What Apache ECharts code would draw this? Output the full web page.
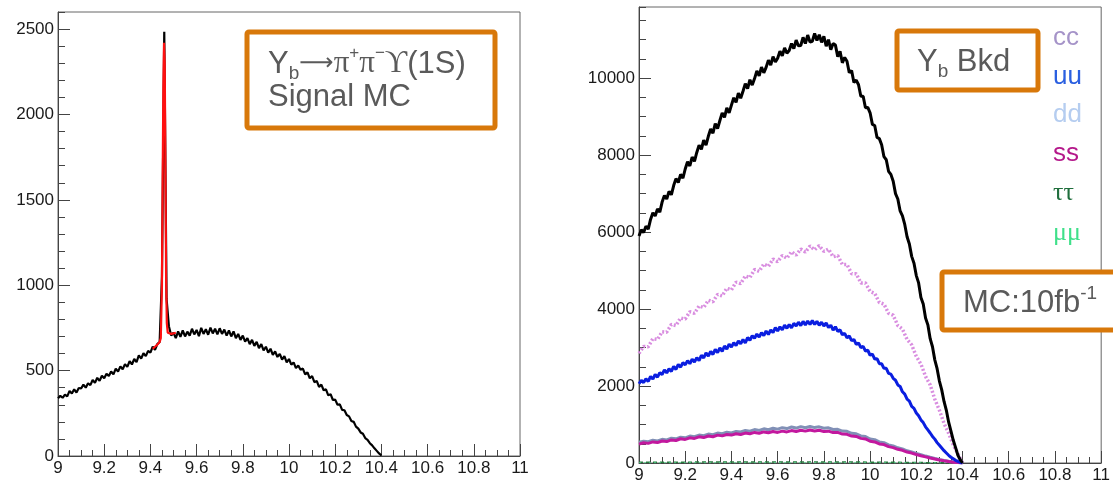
<!DOCTYPE html>
<html>
<head>
<meta charset="utf-8">
<script src="https://cdn.jsdelivr.net/npm/echarts@6/dist/echarts.min.js"></script>
<style>
html,body{margin:0;padding:0;background:#fff;}
#c{width:1113px;height:485px;}
</style>
</head>
<body>
<div id="c"></div>
<script>
// ---- binning (histogram bin centres) ----
const BIN_START = 9.0;
const FINE_BIN = 0.01;   // 141 bins 9.00 .. 10.40
const COARSE_BIN = 0.02; // 71 bins 9.00 .. 10.40

// ---- Left panel: signal MC (counts per bin) ----
const signalCounts = [
  338,352,341,360,349, 381,366,390,372,398, 395,418,400,426,415, 445,428,458,440,470,
  455,482,468,495,478, 512,494,525,508,538, 522,555,536,568,550, 590,570,602,585,615,
  605,640,622,655,668, 1050,2485,920,760,705, 722,690,730,698,735, 700,728,705,745,712,
  738,702,750,715,742, 710,752,718,745,712, 748,715,740,705,735, 700,730,690,715,680,
  705,670,690,655,680, 645,668,632,655,618, 640,605,628,592,612, 580,598,565,585,548,
  568,535,548,515,530, 505,512,478,490,455, 468,432,440,405,418, 385,390,355,362,328,
  330,300,302,270,268, 240,232,205,200,172, 160,138,130,105,95, 75,62,45,30,15, 3
];
// fit curve (x, y)
const fitX = [9.41,9.42,9.43,9.44,9.445,9.45,9.453,9.456,9.459,9.462,9.465,9.468,9.471,9.475,9.48,9.49,9.50,9.51];
const fitY = [628,640,652,668,690,1000,1600,2150,2420,2300,1700,1050,780,722,712,715,718,722];

// ---- Right panel: background MC ----
const bkdTotal = [
  5900,6060,5990,6150,6080, 6330,6500,6420,6600,6520, 6780,6950,6860,7060,6970, 7210,7390,7290,7500,7400,
  7640,7830,7720,7950,7840, 8070,8260,8150,8390,8260, 8490,8680,8570,8820,8690, 8900,9100,8980,9230,9100,
  9300,9490,9370,9610,9480, 9660,9860,9730,9960,9820, 9990,10190,10060,10290,10140, 10280,10470,10340,10560,10420,
  10520,10700,10580,10790,10650, 10720,10900,10770,10990,10840, 10850,11060,10900,11120,10940, 10960,11160,10980,11130,10930,
  11090,10830,11000,10740,10900, 10860,10560,10700,10400,10540, 10440,10140,10200,9890,9950, 9830,9530,9530,9230,9240,
  9100,8800,8770,8460,8430, 8270,7960,7880,7580,7500, 7320,7000,6860,6550,6420, 6200,5880,5690,5370,5190,
  4870,4680,4300,4130,3770, 3590,3230,3020,2680,2450, 2130,1900,1600,1370,1060, 830,590,400,200,85, 0
];
const bkdUU = [
  2060,2150,2090,2190,2120, 2250,2180,2300,2230,2350, 2300,2420,2340,2450,2380, 2510,2430,2560,2490,2610,
  2550,2660,2580,2700,2620, 2740,2660,2800,2730,2860, 2780,2900,2820,2950,2870, 2990,2900,3040,2960,3090,
  3010,3130,3050,3170,3100, 3210,3120,3260,3190,3310, 3240,3350,3270,3390,3310, 3430,3340,3460,3390,3520,
  3430,3540,3460,3580,3500, 3600,3510,3630,3560,3660, 3570,3680,3590,3690,3600, 3700,3600,3680,3580,3660,
  3560,3640,3520,3580,3450, 3540,3420,3460,3330,3370, 3250,3300,3180,3210,3080, 3120,3000,3030,2910,2930,
  2800,2830,2700,2710,2580, 2580,2460,2460,2330,2310, 2200,2150,2030,1990,1850, 1790,1660,1610,1470,1420,
  1300,1230,1120,1050,940, 860,780,690,620,530, 460,390,320,260,200, 150,110,70,40,15, 0
];
const bkdPink = [
  2850,3030,3020,3230,3210,3410,3400,3600,3570,3770,
  3740,3930,3890,4080,4040,4230,4190,4380,4340,4540,
  4500,4700,4660,4860,4820,5030,4980,5170,5110,5300,
  5230,5390,5320,5490,5400,5560,5480,5640,5540,5650,
  5500,5560,5360,5390,5160,5160,4920,4920,4680,4680,
  4460,4410,4170,4130,3890,3840,3570,3480,3210,3070,
  2770,2570,2250,2030,1660,1370,1030,770,470,240,0
];
const bkdGray = [
  540,565,552,590,575,615,600,645,628,672,
  655,700,682,725,708,752,735,778,760,800,
  782,822,805,845,828,868,848,888,865,905,
  880,918,895,935,908,945,915,950,920,940,
  905,915,870,875,830,822,772,760,705,690,
  625,605,548,528,470,445,395,368,318,290,
  248,215,180,148,118,90,66,44,26,12,0
];
const bkdSS = [
  490,525,510,548,530,572,556,600,585,630,
  612,655,638,680,660,702,682,724,705,742,
  725,760,740,778,760,795,772,808,785,820,
  795,828,808,842,820,850,828,858,832,850,
  818,828,790,795,752,745,700,690,640,625,
  565,548,495,478,425,400,355,330,285,258,
  222,190,160,130,105,80,58,38,22,10,0
];
const tauX = [9.0,9.1,9.2,9.3,9.4,9.5,9.6,9.7,9.8,9.9,10.0,10.1,10.2,10.3,10.4];
const tauY = [18,20,22,24,25,27,28,28,27,25,22,18,12,6,0];
const muY  = [4,4,5,5,5,6,6,6,6,5,5,4,3,2,0];

const legendLabels = ['cc','uu','dd','ss','ττ','μμ'];
const xTickStep = 0.2;

// ---- build point lists ----
function toPairs(vals, step){ return vals.map((v,i)=>[+(BIN_START+i*step).toFixed(3), v]); }
function zip(xs, ys){ return xs.map((x,i)=>[x, ys[i]]); }

const FONT = '"Liberation Sans", Arial, Helvetica, sans-serif';
const SERIF = '"Liberation Serif", "DejaVu Serif", serif';
const ORANGE = '#d8780a';
const TXT = '#5a5a5a';

function xAx(gi){
  return {
    type:'value', gridIndex:gi, min:9, max:11, interval:xTickStep,
    axisLine:{show:true, lineStyle:{color:'#444', width:1}},
    axisTick:{show:true, inside:true, length:12, lineStyle:{color:'#444'}},
    minorTick:{show:true, splitNumber:4, length:6, lineStyle:{color:'#444'}},
    splitLine:{show:false},
    axisLabel:{fontFamily:FONT, fontSize:17, color:'#1a1a1a', margin:4,
      formatter:v=>String(+v.toFixed(1))}
  };
}
function yMajor(gi, max, step){
  return {
    type:'value', gridIndex:gi, position:'left', min:0, max:max, interval:step,
    axisLine:{show:true, lineStyle:{color:'#444', width:1}},
    axisTick:{show:true, inside:true, length:12, lineStyle:{color:'#444'}},
    splitLine:{show:false},
    axisLabel:{fontFamily:FONT, fontSize:17, color:'#1a1a1a', margin:4, showMaxLabel:false,
      formatter:v=>String(Math.round(v))}
  };
}
function yMinor(gi, max, step){
  return {
    type:'value', gridIndex:gi, position:'left', min:0, max:max, interval:step,
    axisLine:{show:false}, axisLabel:{show:false}, splitLine:{show:false},
    axisTick:{show:true, inside:true, length:7, lineStyle:{color:'#444'}}
  };
}

const chart = echarts.init(document.getElementById('c'), null, {renderer:'canvas'});

const graphics = [
  // left annotation box
  {type:'rect', shape:{x:247, y:32, width:248, height:96, r:2}, style:{fill:'#fff', stroke:ORANGE, lineWidth:5}, z:10},
  {type:'text', x:268, y:64, z:11, style:{
    text:'{m|Y}{s|b}{a|⟶}{g|π}{p|+}{g|π}{p|−}{g|ϒ}{m|(1S)}',
    verticalAlign:'middle',
    rich:{
      m:{fontFamily:FONT, fontSize:31, lineHeight:38, fill:TXT, verticalAlign:'middle'},
      a:{fontFamily:'"DejaVu Sans", sans-serif', fontSize:24, lineHeight:38, fill:TXT, verticalAlign:'middle'},
      g:{fontFamily:SERIF, fontSize:31, lineHeight:38, fill:TXT, verticalAlign:'middle'},
      s:{fontFamily:FONT, fontSize:19, lineHeight:38, fill:TXT, verticalAlign:'bottom'},
      p:{fontFamily:FONT, fontSize:17, lineHeight:38, fill:TXT, verticalAlign:'top'}
    }}},
  {type:'text', x:268, y:97, z:11, style:{text:'Signal MC', fontFamily:FONT, fontSize:31, fill:TXT, verticalAlign:'middle'}},
  // right "Yb Bkd" box
  {type:'rect', shape:{x:897, y:31, width:141, height:59, r:2}, style:{fill:'#fff', stroke:ORANGE, lineWidth:5}, z:10},
  {type:'text', x:917, y:62, z:11, style:{
    text:'{m|Y}{s|b}{m| Bkd}', verticalAlign:'middle',
    rich:{
      m:{fontFamily:FONT, fontSize:31, lineHeight:38, fill:TXT, verticalAlign:'middle'},
      s:{fontFamily:FONT, fontSize:19, lineHeight:38, fill:TXT, verticalAlign:'bottom'}
    }}},
  // MC luminosity box
  {type:'rect', shape:{x:942, y:272, width:190, height:58, r:2}, style:{fill:'#fff', stroke:ORANGE, lineWidth:5}, z:10},
  {type:'text', x:963, y:303, z:11, style:{
    text:'{m|MC:10fb}{p|-1}', verticalAlign:'middle',
    rich:{
      m:{fontFamily:FONT, fontSize:31, lineHeight:38, fill:TXT, verticalAlign:'middle'},
      p:{fontFamily:FONT, fontSize:19, lineHeight:38, fill:TXT, verticalAlign:'top'}
    }}}
];
const legendColors = ['#a593c8','#2a5fe0','#b5cdf0','#b4178a','#1f6e3c','#3fe08a'];
const legendY = [38,77,115,154,193,233];
legendLabels.forEach((t,i)=>{
  graphics.push({type:'text', x:1053, y:legendY[i], z:11, style:{
    text:t, fontFamily: i>=4 ? SERIF : FONT, fontSize:26, fill:legendColors[i], verticalAlign:'middle'}});
});

chart.setOption({
  animation:false,
  backgroundColor:'#fff',
  grid:[
    {left:58, top:12, width:462, height:444, show:true, borderColor:'#666', borderWidth:1, backgroundColor:'transparent'},
    {left:639, top:7, width:470, height:456, show:true, borderColor:'#666', borderWidth:1, backgroundColor:'transparent'}
  ],
  xAxis:[xAx(0), xAx(1)],
  yAxis:[yMajor(0,2600,500), yMinor(0,2600,100), yMajor(1,11850,2000), yMinor(1,11850,500)],
  series:[
    {name:'signal', type:'line', xAxisIndex:0, yAxisIndex:0, data:toPairs(signalCounts, FINE_BIN),
      showSymbol:false, lineStyle:{color:'#000', width:2.2}, z:2},
    {name:'fit', type:'line', xAxisIndex:0, yAxisIndex:0, data:zip(fitX, fitY),
      showSymbol:false, lineStyle:{color:'#ff1010', width:2.2}, z:3},
    {name:'ττ', type:'line', xAxisIndex:1, yAxisIndex:2, data:zip(tauX, tauY),
      showSymbol:false, lineStyle:{color:'#2a7a40', width:1.5, type:[4,3]}, z:2},
    {name:'μμ', type:'line', xAxisIndex:1, yAxisIndex:2, data:zip(tauX, muY),
      showSymbol:false, lineStyle:{color:'#55dd90', width:1, type:[2,3]}, z:2},
    {name:'dd', type:'line', xAxisIndex:1, yAxisIndex:2, data:toPairs(bkdGray, COARSE_BIN),
      showSymbol:false, lineStyle:{color:'#8190b6', width:3}, z:3},
    {name:'ss', type:'line', xAxisIndex:1, yAxisIndex:2, data:toPairs(bkdSS, COARSE_BIN),
      showSymbol:false, lineStyle:{color:'#c2189e', width:3}, z:4},
    {name:'cc', type:'line', xAxisIndex:1, yAxisIndex:2, data:toPairs(bkdPink, COARSE_BIN),
      showSymbol:false, lineStyle:{color:'#d98ee0', width:3.5, type:[2,2]}, z:4},
    {name:'uu', type:'line', xAxisIndex:1, yAxisIndex:2, data:toPairs(bkdUU, FINE_BIN),
      showSymbol:false, lineStyle:{color:'#0a1ee0', width:3}, z:5},
    {name:'total', type:'line', xAxisIndex:1, yAxisIndex:2, data:toPairs(bkdTotal, FINE_BIN),
      showSymbol:false, lineStyle:{color:'#000', width:3}, z:6}
  ],
  graphic:graphics
});
</script>
</body>
</html>
